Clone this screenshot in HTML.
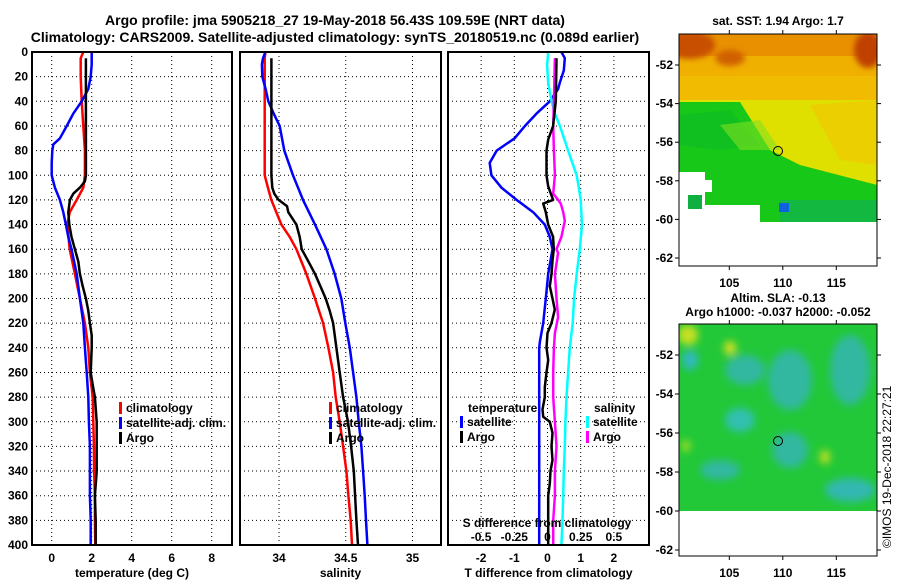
<!DOCTYPE html>
<html><head><meta charset="utf-8">
<style>
html,body{margin:0;padding:0;background:#fff;}
svg{display:block;font-family:"Liberation Sans",Arial,sans-serif;font-weight:bold;}
</style></head>
<body>
<svg id="chart" width="900" height="580" viewBox="0 0 900 580" xmlns="http://www.w3.org/2000/svg">
<defs>
<filter id="blur3" x="-50%" y="-50%" width="200%" height="200%"><feGaussianBlur stdDeviation="3"/></filter>
<filter id="blur5" x="-50%" y="-50%" width="200%" height="200%"><feGaussianBlur stdDeviation="4"/></filter>
<clipPath id="clipTop"><rect x="679" y="34" width="198" height="232"/></clipPath>
<clipPath id="clipBot"><rect x="679" y="324" width="198" height="232"/></clipPath>
</defs>
<text x="335" y="25" font-size="14" text-anchor="middle">Argo profile: jma 5905218_27 19-May-2018 56.43S 109.59E (NRT data)</text>
<text x="335" y="42" font-size="14" text-anchor="middle">Climatology: CARS2009. Satellite-adjusted climatology: synTS_20180519.nc (0.089d earlier)</text>

<!-- SST map -->
<g>
<text x="778" y="25" font-size="12" text-anchor="middle">sat. SST: 1.94 Argo: 1.7</text>
<g clip-path="url(#clipTop)">
<rect x="679" y="34" width="198" height="232" fill="#fff"/>
<rect x="679" y="34" width="198" height="70" fill="#f0b000"/>
<rect x="679" y="34" width="198" height="22" fill="#e89000"/>
<ellipse cx="690" cy="45" rx="25" ry="14" fill="#c85000" filter="url(#blur3)"/>
<ellipse cx="730" cy="58" rx="15" ry="8" fill="#d06000" filter="url(#blur3)"/>
<ellipse cx="868" cy="50" rx="14" ry="18" fill="#c04000" filter="url(#blur3)"/>
<rect x="679" y="76" width="198" height="26" fill="#f0c000" opacity="0.7"/>
<polygon points="679,100 877,100 877,195 800,190 760,160 720,130 679,128" fill="#e0e000"/>
<polygon points="810,105 877,100 877,165 840,160" fill="#f0c800" opacity="0.7"/>
<polygon points="679,102 740,102 770,150 800,165 877,185 877,222 790,222 760,222 760,205 705,205 705,172 679,172" fill="#18c818"/>
<polygon points="679,115 730,110 760,145 720,150 679,145" fill="#10c020"/>
<polygon points="720,125 760,120 780,150 740,150" fill="#80e020" opacity="0.6"/>
<rect x="780" y="200" width="97" height="22" fill="#10b050" opacity="0.7"/>
<rect x="779" y="203" width="10" height="9" fill="#1060e0"/>
<rect x="688" y="195" width="14" height="14" fill="#10b040"/>
<rect x="700" y="180" width="12" height="12" fill="#fff"/>
</g>
<rect x="679" y="34" width="198" height="232" fill="none" stroke="#000" stroke-width="1"/>
<circle cx="778" cy="151" r="4.5" fill="none" stroke="#000"/>
</g>

<!-- SLA map -->
<g>
<text x="778" y="302" font-size="12" text-anchor="middle">Altim. SLA: -0.13</text>
<text x="778" y="316" font-size="12" text-anchor="middle">Argo h1000: -0.037 h2000: -0.052</text>
<g clip-path="url(#clipBot)">
<rect x="679" y="324" width="198" height="232" fill="#fff"/>
<rect x="679" y="324" width="198" height="187" fill="#22c838"/>
<g filter="url(#blur5)">
<ellipse cx="745" cy="370" rx="20" ry="15" fill="#30b8a0"/>
<ellipse cx="790" cy="380" rx="22" ry="30" fill="#30b8a0"/>
<ellipse cx="740" cy="420" rx="15" ry="12" fill="#30c0b0"/>
<ellipse cx="690" cy="360" rx="8" ry="10" fill="#30b8c0"/>
<ellipse cx="850" cy="370" rx="20" ry="35" fill="#30b8a0"/>
<ellipse cx="850" cy="490" rx="25" ry="12" fill="#30b8b0"/>
<ellipse cx="790" cy="450" rx="18" ry="18" fill="#30b8a0"/>
<ellipse cx="720" cy="470" rx="20" ry="10" fill="#30b8a0"/>
<ellipse cx="688" cy="335" rx="10" ry="10" fill="#c8e020"/>
<ellipse cx="730" cy="348" rx="6" ry="7" fill="#d8e020"/>
<ellipse cx="686" cy="446" rx="4" ry="6" fill="#b0e020"/>
<ellipse cx="825" cy="457" rx="5" ry="7" fill="#c8e020"/>
</g>
</g>
<rect x="679" y="324" width="198" height="232" fill="none" stroke="#000" stroke-width="1"/>
<circle cx="778" cy="441" r="4.5" fill="none" stroke="#000"/>
</g>
<text transform="translate(891,548) rotate(-90)" font-size="12" font-weight="normal">©IMOS 19-Dec-2018 22:27:21</text>

<g id="panels"></g>
</svg>
<script>
// ---------- data ----------
const depthTicks = [0,20,40,60,80,100,120,140,160,180,200,220,240,260,280,300,320,340,360,380,400];
const tempTicks = [0,2,4,6,8];
const salTicks = [34,34.5,35];
const salTickLabels = ["34","34.5","35"];
const tdiffTicks = [-2,-1,0,1,2];
const sdiffTicks = [-0.5,-0.25,0,0.25,0.5];
const sdiffTickLabels = ["-0.5","-0.25","0","0.25","0.5"];

const climTDepth = [0,5,20,40,60,80,100,110,120,130,140,160,180,200,220,240,260,280,300,320,340,360,380,400];
const climT = [1.58,1.45,1.45,1.5,1.58,1.66,1.66,1.58,1.25,0.9,0.78,0.9,1.16,1.41,1.66,1.83,1.91,2.05,2.08,2.11,2.12,2.16,2.16,2.18];
const argoTDepth = [5,100,105,110,115,120,130,140,150,160,170,180,190,200,210,220,230,240,260,270,280,300,320,340,360,380,400];
const argoT = [1.71,1.71,1.66,1.41,1.08,0.91,0.83,0.88,0.99,1.16,1.33,1.41,1.55,1.71,1.83,1.91,2.0,2.0,1.95,2.05,2.16,2.25,2.25,2.25,2.16,2.2,2.2];
const satTDepth = [0,10,20,30,40,50,60,70,75,80,90,100,110,120,130,140,150,160,180,200,220,240,260,280,300,320,340,360,380,400];
const satT = [2.0,2.0,1.95,1.83,1.5,1.08,0.75,0.41,0.08,0.03,0,0,0.16,0.41,0.58,0.71,0.83,0.99,1.25,1.41,1.58,1.66,1.75,1.83,1.86,1.91,1.91,1.91,1.95,1.95];

const climSDepth = [0,5,100,110,120,130,140,150,160,180,200,220,240,260,280,300,320,340,360,380,400];
const climS = [33.898,33.893,33.893,33.917,33.942,33.98,34.018,34.08,34.13,34.205,34.27,34.33,34.37,34.405,34.425,34.455,34.48,34.505,34.52,34.537,34.547];
const argoSDepth = [5,100,110,115,120,125,130,140,150,160,170,180,190,200,210,220,240,260,280,300,320,340,360,380,400];
const argoS = [33.943,33.943,33.95,33.965,33.997,34.06,34.07,34.13,34.155,34.17,34.22,34.27,34.31,34.35,34.38,34.405,34.43,34.455,34.48,34.517,34.54,34.56,34.57,34.58,34.592];
const satSDepth = [0,5,10,20,30,40,50,60,80,100,120,140,160,180,200,220,240,260,280,300,320,340,360,380,400];
const satS = [33.898,33.88,33.872,33.875,33.9,33.92,33.96,34.005,34.04,34.105,34.18,34.27,34.355,34.417,34.467,34.497,34.53,34.555,34.58,34.597,34.617,34.63,34.642,34.652,34.662];

const satTdDepth = [0,5,15,25,30,40,50,60,70,80,90,100,110,120,130,140,150,160,180,200,220,235,240,400];
const satTd = [0.42,0.52,0.49,0.37,0.32,0.07,-0.33,-0.68,-0.99,-1.53,-1.74,-1.69,-1.39,-0.93,-0.43,-0.08,0.07,0.15,0.02,-0.05,-0.13,-0.23,-0.25,-0.25];
const argoTdDepth = [5,40,60,71,80,100,109,120,123,130,140,150,160,169,180,190,200,209,220,228,240,250,260,272,280,290,296,300,309,320,331,340,350,360,380,400];
const argoTd = [0.27,0.25,0.17,0.02,-0.03,-0.03,0.02,0.17,-0.13,-0.05,0.02,0.17,0.19,0.15,0.12,0.07,0.15,0.22,0.12,0,-0.03,0.02,-0.03,-0.08,-0.08,-0.15,-0.13,0.07,0.15,0.12,0.15,0.09,0.07,0.02,0.02,0.02];
const satSdDepth = [0,11,25,40,50,60,80,100,110,120,140,160,180,200,220,240,260,280,300,320,340,360,380,400];
const satSd = [0.005,-0.003,0.005,0.03,0.055,0.093,0.155,0.22,0.236,0.25,0.26,0.243,0.22,0.2,0.19,0.168,0.155,0.143,0.135,0.13,0.123,0.118,0.113,0.105];
const argoSdDepth = [5,40,60,80,100,115,120,123,130,137,150,160,163,180,200,215,228,240,260,280,300,320,340,360,380,400];
const argoSd = [0.056,0.048,0.043,0.048,0.056,0.043,0.08,0.1,0.118,0.13,0.105,0.068,0.08,0.056,0.068,0.08,0.056,0.048,0.043,0.043,0.056,0.068,0.056,0.056,0.043,0.043];

// ---------- helpers ----------
const NS = "http://www.w3.org/2000/svg";
const root = document.getElementById('panels');
const TOP = 52, BOT = 545;
function yD(d){ return TOP + (BOT-TOP)*d/400; }
function mk(tag, attrs, parent){
  const e = document.createElementNS(NS, tag);
  for (const k in attrs) e.setAttribute(k, attrs[k]);
  (parent||root).appendChild(e);
  return e;
}
function txt(x,y,s,size,anchor,parent){
  const t = mk('text',{x:x,y:y,'font-size':size,'text-anchor':anchor||'middle'},parent);
  t.textContent = s;
  return t;
}

function panel(name, x0, x1, xScale, xTicks, xLabels, title){
  const g = mk('g',{});
  
  
  xTicks.forEach(v=>{
    const l = mk('line',{x1:xScale(v),x2:xScale(v),y1:TOP,y2:BOT,stroke:'#000','stroke-width':1,'stroke-dasharray':'1,3'},g);
    
    
  });
  depthTicks.slice(1,-1).forEach(d=>{
    const l = mk('line',{x1:x0,x2:x1,y1:yD(d),y2:yD(d),stroke:'#000','stroke-width':1,'stroke-dasharray':'1,3'},g);
    
    
  });
  xTicks.forEach((v,i)=>{
    const t = txt(xScale(v), 562, xLabels[i], 12, 'middle', g);
    
    
  });
  const tt = txt((x0+x1)/2, 577, title, 12, 'middle', g);
  
  
  return g;
}
function box(g,x0,x1){
  const r = mk('rect',{x:x0,y:TOP,width:x1-x0,height:BOT-TOP,fill:'none',stroke:'#000','stroke-width':2},g);
  
  
}
function line(g, xs, ds, xScale, color, name){
  const pts = xs.map((v,i)=> xScale(v).toFixed(1)+','+yD(ds[i]).toFixed(1)).join(' ');
  const p = mk('polyline',{points:pts,fill:'none',stroke:color,'stroke-width':2.5,'stroke-linejoin':'round'},g);
  
  
}
function legend(g, x, y, items){
  items.forEach((it,i)=>{
    const yy = y + i*15;
    const r = mk('rect',{x:x,y:yy-10,width:3,height:12,fill:it[1]},g);
    
    
    const t = txt(x+7, yy, it[0], 12, 'start', g);
    
    
  });
}

depthTicks.forEach(d=>{
  const t = txt(28, yD(d)+4, String(d), 12, 'end');
  
  
});

const xT = v => 51.7 + 20*v;
const g1 = panel('temperature-panel', 32, 232, xT, tempTicks, tempTicks.map(String), 'temperature (deg C)');
line(g1, climT, climTDepth, xT, '#ff0000', 'climatology-temperature-line');
line(g1, satT, satTDepth, xT, '#0000ff', 'satellite-adj-temperature-line');
line(g1, argoT, argoTDepth, xT, '#000000', 'argo-temperature-line');
legend(g1, 119, 412, [['climatology','#ff0000'],['satellite-adj. clim.','#0000ff'],['Argo','#000000']]);
box(g1, 32, 232);

const xS = v => 279 + 133.5*(v-34);
const g2 = panel('salinity-panel', 240, 441, xS, salTicks, salTickLabels, 'salinity');
line(g2, climS, climSDepth, xS, '#ff0000', 'climatology-salinity-line');
line(g2, satS, satSDepth, xS, '#0000ff', 'satellite-adj-salinity-line');
line(g2, argoS, argoSDepth, xS, '#000000', 'argo-salinity-line');
legend(g2, 329, 412, [['climatology','#ff0000'],['satellite-adj. clim.','#0000ff'],['Argo','#000000']]);
box(g2, 240, 441);

const xTd = v => 547.5 + 33.2*v;
const xSd = v => 547.5 + 33.2*4*v;
const g3 = panel('difference-panel', 448, 649, xTd, tdiffTicks, tdiffTicks.map(String), 'T difference from climatology');
line(g3, satTd, satTdDepth, xTd, '#0000ff', 'satellite-temperature-difference-line');
line(g3, satSd, satSdDepth, xSd, '#00ffff', 'satellite-salinity-difference-line');
line(g3, argoSd, argoSdDepth, xSd, '#ff00ff', 'argo-salinity-difference-line');
line(g3, argoTd, argoTdDepth, xTd, '#000000', 'argo-temperature-difference-line');
const lh1 = txt(468, 412, 'temperature', 12, 'start', g3);


legend(g3, 460, 426, [['satellite','#0000ff'],['Argo','#000000']]);
const lh2 = txt(594, 412, 'salinity', 12, 'start', g3);


legend(g3, 586, 426, [['satellite','#00ffff'],['Argo','#ff00ff']]);
const st = txt(547, 527, 'S difference from climatology', 12, 'middle', g3);


sdiffTicks.forEach((v,i)=>{
  const t = txt(xSd(v), 541, sdiffTickLabels[i], 12, 'middle', g3);
  
  
});
box(g3, 448, 649);

const latLabels = ["-52","-54","-56","-58","-60","-62"];
const latVals = [-52,-54,-56,-58,-60,-62];
const lonVals = [105,110,115];
function mapAxes(top, latY, name){
  const g = mk('g',{});
  
  
  latVals.forEach((v,i)=>{
    const y = latY(v);
    const t = txt(673, y+4, latLabels[i], 12, 'end', g);
    
    
    mk('line',{x1:679,x2:675,y1:y,y2:y,stroke:'#000'},g);
    mk('line',{x1:877,x2:881,y1:y,y2:y,stroke:'#000'},g);
  });
  lonVals.forEach(v=>{
    const x = 729.3 + (v-105)*10.7;
    const t = txt(x, top+232+21, String(v), 12, 'middle', g);
    
    
    mk('line',{x1:x,x2:x,y1:top,y2:top-4,stroke:'#000'},g);
    mk('line',{x1:x,x2:x,y1:top+232,y2:top+236,stroke:'#000'},g);
  });
}
mapAxes(34, v => 65 + (-52 - v)*19.3, 'sst-map-axes');
mapAxes(324, v => 355 + (-52 - v)*19.5, 'sla-map-axes');
</script>
</body></html>
